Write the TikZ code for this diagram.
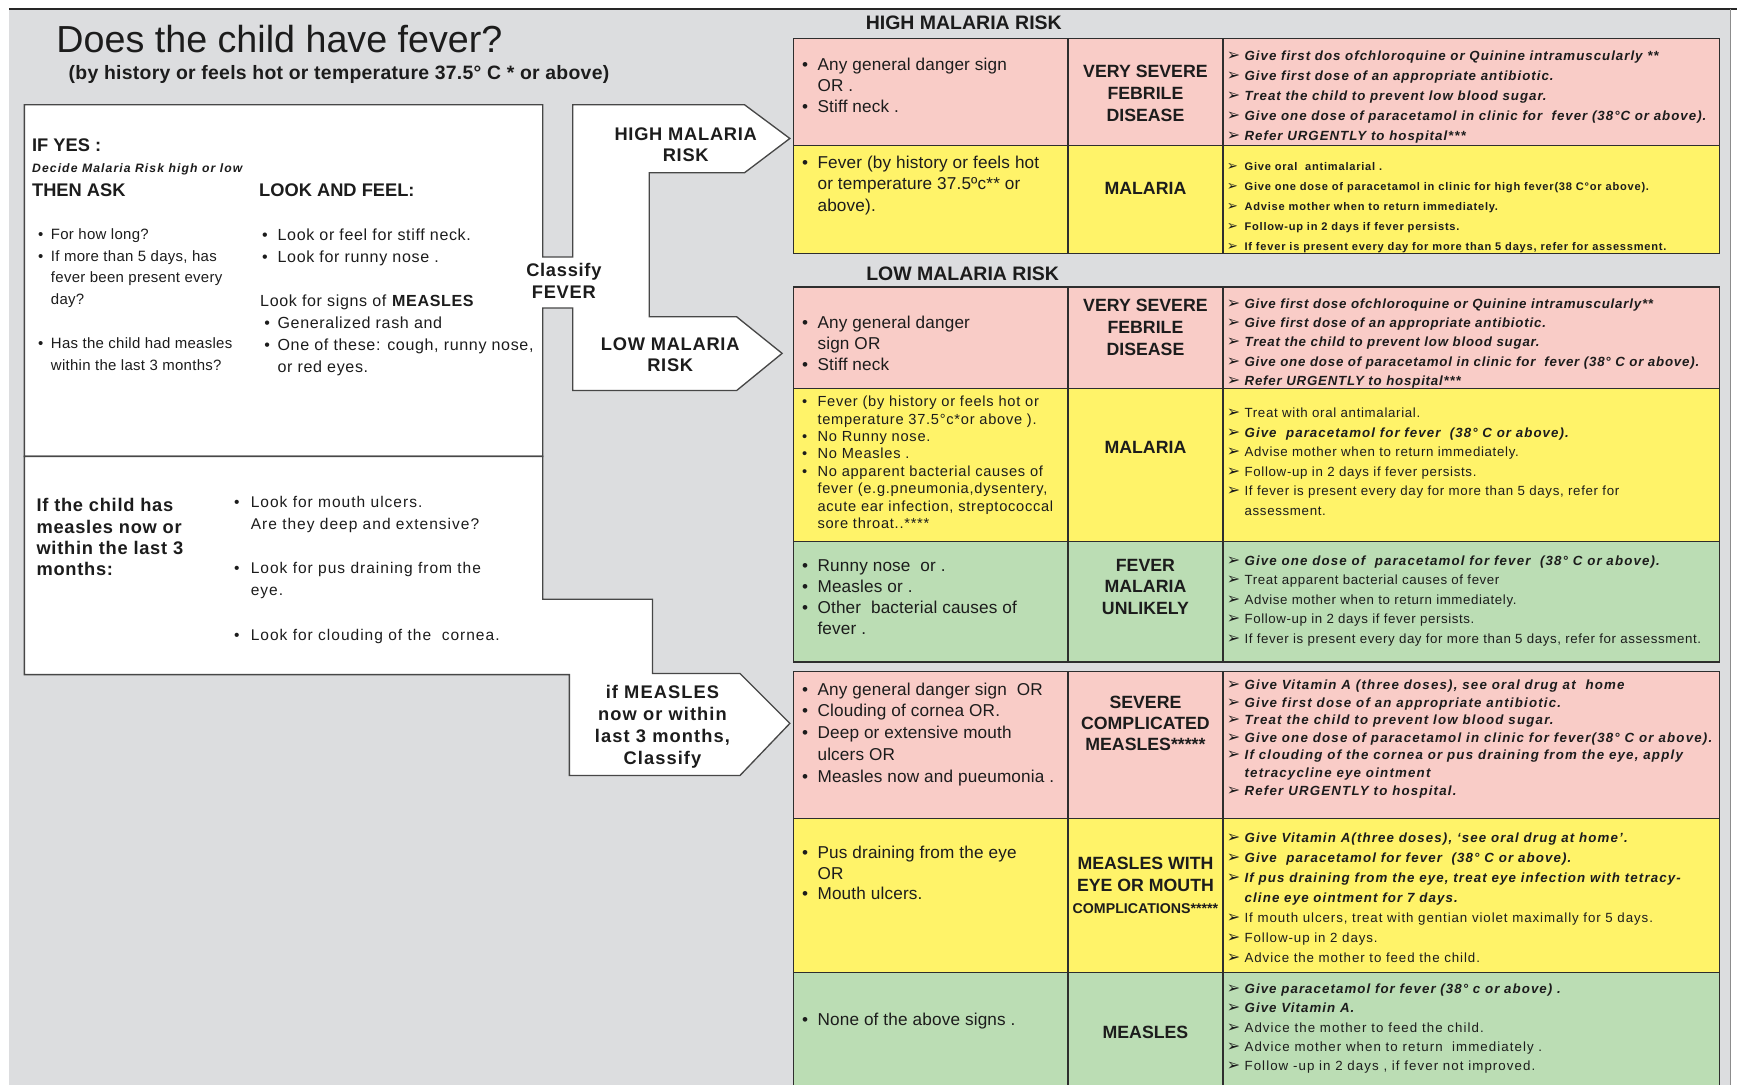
\documentclass[tikz,border=0pt]{standalone}
\usepackage{fontspec}
\setmainfont{Liberation Sans}
\newfontfamily\dvs{DejaVu Sans}
\definecolor{bg}{RGB}{220,221,223}
\definecolor{pinkc}{RGB}{249,204,199}
\definecolor{yelc}{RGB}{255,243,105}
\definecolor{grnc}{RGB}{187,221,180}
\definecolor{ink}{RGB}{28,28,28}
% list markers and helpers
\newcommand\bul[1][14pt]{\makebox[#1][l]{•}}
\newcommand\mk{\makebox[16pt][l]{\scalebox{1.2}{\dvs\upshape ➢}}}
\newcommand\indt[1][14pt]{\hspace*{#1}}
\newcommand\fz[2]{\fontsize{#1}{#2}\selectfont}
\newcommand\bi{\bfseries\itshape}
\newcommand\trk[1]{\addfontfeature{LetterSpace=#1}}

\begin{document}
\begin{tikzpicture}[x=1pt,y=-1pt,
  every node/.style={inner sep=0pt, outer sep=0pt, text=ink},
  cell/.style={anchor=north west, align=left},
  ctrtxt/.style={anchor=north, align=center},
  one/.style={anchor=base west},
  onec/.style={anchor=base},
  wshape/.style={fill=white, draw=black!72, line width=1.2pt, line join=miter},
  rule/.style={draw=black!82, line width=1.1pt},
  colA/.style={font=\fz{15.5}{19.5}\trk{1}},
  colB/.style={font=\fz{16}{19.8}\bfseries},
  lbl/.style={ctrtxt, font=\fz{16.5}{19.5}\bfseries\trk{4}},
]
\useasboundingbox (0,0) rectangle (1568,979);
\clip (0,0) rectangle (1568,979);

% page background
\fill[bg] (8,8) rectangle (1562,990);
\draw[black!85, line width=1.4pt] (8,8) -- (1568,8);
\draw[black!45, line width=1pt] (1562,8) -- (1562,990);

% heading
\node[one, font=\fz{34}{36}] (title) at (51,47.5) {Does the child have fever?};
\node[one, font=\fz{17.5}{20}\bfseries\trk{1.5}] (subtitle) at (62,72) {(by history or feels hot or temperature 37.5° C * or above)};

% assessment panel with the two branching arrows
\draw[wshape] (22,94.5) -- (490,94.5) -- (490,232) -- (517,232) -- (517,94.5) -- (672,94.5) -- (713,125) -- (672,156) -- (586,156) -- (586,286) -- (665,286) -- (706,319) -- (665,352.5) -- (517,352.5) -- (517,278) -- (490,278) -- (490,412) -- (22,412) -- cycle;
% measles panel with its arrow
\draw[wshape] (22,412) -- (490,412) -- (490,541) -- (589,541) -- (589,608) -- (668,608) -- (713,653) -- (668,700) -- (514,700) -- (514,609) -- (22,609) -- cycle;

% upper panel text
\node[one, font=\fz{16.5}{19.5}\bfseries] (ifyes) at (29,137) {IF YES :};
\node[one, font=\fz{11}{13}\bi\trk{9}] (decide) at (29,156) {Decide Malaria Risk high or low};
\node[one, font=\fz{16.5}{19.5}\bfseries] (thenask) at (29,177.5) {THEN ASK};
\node[one, font=\fz{16.5}{19.5}\bfseries] (lookfeel) at (234,177.5) {LOOK AND FEEL:};
\node[cell, font=\fz{13.5}{19.7}\trk{2}] (asklist) at (34.5,202.2) {\strut\bul[11.5pt]For how long?\\
  \bul[11.5pt]If more than 5 days, has\\
  \indt[11.5pt]fever been present every\\
  \indt[11.5pt]day?\\
  \strut\\
  \bul[11.5pt]Has the child had measles\\
  \indt[11.5pt]within the last 3 months?};
\node[cell, font=\fz{14.5}{20}\trk{4}] (looklist) at (236.6,202.7) {\strut\bul Look or feel for stiff neck.\\
  \bul Look for runny nose .\\
  \strut\\
  \hspace*{-1.7pt}Look for signs of \textbf{MEASLES}\\
  \hspace*{2pt}\bul[12pt]Generalized rash and\\
  \hspace*{2pt}\bul[12pt]One of these: cough, runny nose,\\
  \indt or red eyes.};

% lower panel text
\node[cell, font=\fz{16.5}{19.2}\bfseries\trk{4}] (measq) at (33,448.5) {\strut If the child has\\ measles now or\\ within the last 3\\ months:};
\node[cell, font=\fz{14}{20}\trk{6.5}] (measlist) at (211.4,444) {\strut\bul[15pt]Look for mouth ulcers.\\
  \indt[15pt]Are they deep and extensive?\\
  \strut\\
  \bul[15pt]Look for pus draining from the\\
  \indt[15pt]eye.\\
  \strut\\
  \bul[15pt]Look for clouding of the\ \ cornea.};

% arrow labels
\node[lbl] (lblhigh) at (619,112.85) {\strut HIGH MALARIA\\ RISK};
\node[lbl] (lblclass) at (509,236.35) {\strut Classify\\ FEVER};
\node[lbl] (lbllow) at (605,302.35) {\strut LOW MALARIA\\ RISK};
\node[lbl, font=\fz{16.5}{19.8}\bfseries\trk{6}] (lblmeas) at (598,616.6) {\strut if MEASLES\\ now or within\\ last 3 months,\\ Classify};

% ---------- high malaria risk table ----------
\node[onec, font=\fz{17.6}{20}\bfseries] (hdrhigh) at (870,27) {HIGH MALARIA RISK};
\fill[pinkc] (716,34.5) rectangle (1552,131.5);
\fill[yelc] (716,131.5) rectangle (1552,228.5);
\draw[rule] (716,34.5) rectangle (1552,228.5) (716,131.5) -- (1552,131.5)
  (964,34.5) -- (964,228.5) (1104,34.5) -- (1104,228.5);

\node[cell, font=\fz{15.5}{19.3}\trk{1}] (h1s) at (724,49.7) {\strut\bul Any general danger sign\\ \indt OR .\\ \bul Stiff neck .};
\node[ctrtxt, colB] (h1c) at (1034,55.9) {\strut VERY SEVERE\\ FEBRILE\\ DISEASE};
\node[cell, font=\fz{12}{18.1}\bi\trk{7.5}] (h1t) at (1107.5,41.8) {\strut\mk Give first dos ofchloroquine or Quinine intramuscularly **\\
  \mk Give first dose of an appropriate antibiotic.\\
  \mk Treat the child to prevent low blood sugar.\\
  \mk Give one dose of paracetamol in clinic for\ \ fever (38°C or above).\\
  \mk Refer URGENTLY to hospital***};

\node[cell, colA] (h2s) at (724,138.35) {\strut\bul Fever (by history or feels hot\\ \indt or temperature 37.5ºc** or\\ \indt above).};
\node[onec, colB] (h2c) at (1034,176) {MALARIA};
\node[cell, font=\fz{10}{18}\bfseries\trk{7}] (h2t) at (1107.5,141.2) {\strut\mk Give oral\ \ antimalarial .\\
  \mk Give one dose of paracetamol in clinic for high fever(38 C°or above).\\
  \mk Advise mother when to return immediately.\\
  \mk Follow-up in 2 days if fever persists.\\
  \mk If fever is present every day for more than 5 days, refer for assessment.};

% ---------- low malaria risk table ----------
\node[onec, font=\fz{17.6}{20}\bfseries] (hdrlow) at (869,253) {LOW MALARIA RISK};
\fill[pinkc] (716,259) rectangle (1552,351);
\fill[yelc] (716,351) rectangle (1552,489);
\fill[grnc] (716,489) rectangle (1552,597.5);
\draw[rule] (716,259) rectangle (1552,597.5) (716,351) -- (1552,351) (716,489) -- (1552,489)
  (964,259) -- (964,597.5) (1104,259) -- (1104,597.5);

\node[cell, font=\fz{15.5}{19.1}\trk{1}] (l1s) at (724,283) {\strut\bul Any general danger\\ \indt sign OR\\ \bul Stiff neck};
\node[ctrtxt, font=\fz{16}{20}\bfseries] (l1c) at (1034,267.3) {\strut VERY SEVERE\\ FEBRILE\\ DISEASE};
\node[cell, font=\fz{12}{17.4}\bi\trk{6}] (l1t) at (1107.5,266.2) {\strut\mk Give first dose ofchloroquine or Quinine intramuscularly**\\
  \mk Give first dose of an appropriate antibiotic.\\
  \mk Treat the child to prevent low blood sugar.\\
  \mk Give one dose of paracetamol in clinic for\ \ fever (38° C or above).\\
  \mk Refer URGENTLY to hospital***};

\node[cell, font=\fz{13.2}{15.7}\trk{5}] (l2s) at (724,356.1) {\strut\bul Fever (by history or feels hot or\\
  \indt temperature 37.5°c*or above ).\\
  \bul No Runny nose.\\
  \bul No Measles .\\
  \bul No apparent bacterial causes of\\
  \indt fever (e.g.pneumonia,dysentery,\\
  \indt acute ear infection, streptococcal\\
  \indt sore throat..****};
\node[onec, colB] (l2c) at (1034,409.2) {MALARIA};
\node[cell, font=\fz{12}{17.6}\trk{5}] (l2t) at (1107.5,364.8) {\strut\mk Treat with oral antimalarial.\\
  {\bi\trk{8}\mk Give\ \ paracetamol for fever\ \ (38° C or above).}\\
  \mk Advise mother when to return immediately.\\
  \mk Follow-up in 2 days if fever persists.\\
  \mk If fever is present every day for more than 5 days, refer for\\
  \indt[16pt]assessment.};

\node[cell, font=\fz{15.5}{19}\trk{1}] (l3s) at (724,502.7) {\strut\bul Runny nose\ \ or .\\ \bul Measles or .\\ \bul Other\ \ bacterial causes of\\ \indt fever .};
\node[ctrtxt, font=\fz{16}{19.2}\bfseries] (l3c) at (1034,502.6) {\strut FEVER\\ MALARIA\\ UNLIKELY};
\node[cell, font=\fz{12}{17.6}\trk{4.5}] (l3t) at (1107.5,498.1) {\strut{\bi\trk{8.5}\mk Give one dose of\ \ paracetamol for fever\ \ (38° C or above).}\\
  \mk Treat apparent bacterial causes of fever\\
  \mk Advise mother when to return immediately.\\
  \mk Follow-up in 2 days if fever persists.\\
  \mk If fever is present every day for more than 5 days, refer for assessment.};

% ---------- measles table ----------
\fill[pinkc] (716,606) rectangle (1552,739);
\fill[yelc] (716,739) rectangle (1552,878);
\fill[grnc] (716,878) rectangle (1552,990);
\draw[rule] (716,606) rectangle (1552,990) (716,739) -- (1552,739) (716,878) -- (1552,878)
  (964,606) -- (964,990) (1104,606) -- (1104,990);

\node[cell, font=\fz{15.5}{19.7}\trk{1}] (m1s) at (724,613.6) {\strut\bul Any general danger sign\ \ OR\\
  \bul Clouding of cornea OR.\\
  \bul Deep or extensive mouth\\
  \indt ulcers OR\\
  \bul Measles now and pueumonia .};
\node[ctrtxt, font=\fz{16}{19}\bfseries] (m1c) at (1034,626.1) {\strut SEVERE\\ COMPLICATED\\ MEASLES*****};
\node[cell, font=\fz{12}{15.9}\bi\trk{9}] (m1t) at (1107.5,611.2) {\strut\mk Give Vitamin A (three doses), see oral drug at\ \ home\\
  \mk Give first dose of an appropriate antibiotic.\\
  \mk Treat the child to prevent low blood sugar.\\
  \mk Give one dose of paracetamol in clinic for fever(38° C or above).\\
  \mk If clouding of the cornea or pus draining from the eye, apply\\
  \indt[16pt]tetracycline eye ointment\\
  \mk Refer URGENTLY to hospital.};

\node[cell, font=\fz{15.5}{18.8}\trk{1}] (m2s) at (724,761.6) {\strut\bul Pus draining from the eye\\ \indt OR\\ \bul Mouth ulcers.};
\node[ctrtxt, font=\fz{16}{19.6}\bfseries] (m2c) at (1034,771.6) {\strut MEASLES WITH\\ EYE OR MOUTH\\ {\fz{12.8}{19.6}COMPLICATIONS*****}};
\node[cell, font=\fz{12}{18}\trk{7}] (m2t) at (1107.5,748.2) {\strut{\bi\trk{8.5}\mk Give Vitamin A(three doses), `see oral drug at home'.}\\
  {\bi\trk{8.5}\mk Give\ \ paracetamol for fever\ \ (38° C or above).}\\
  {\bi\trk{8.5}\mk If pus draining from the eye, treat eye infection with tetracy-}\\
  {\bi\trk{8.5}\indt[16pt]cline eye ointment for 7 days.}\\
  \mk If mouth ulcers, treat with gentian violet maximally for 5 days.\\
  \mk Follow-up in 2 days.\\
  {\bfseries\mk}Advice the mother to feed the child.};

\node[one, colA] (m3s) at (724,925.3) {\bul None of the above signs .};
\node[onec, colB] (m3c) at (1034,937.3) {MEASLES};
\node[cell, font=\fz{12}{17.3}\trk{8}] (m3t) at (1107.5,884.9) {\strut{\bi\mk Give paracetamol for fever (38° c or above) .}\\
  {\bi\mk Give Vitamin A.}\\
  \mk Advice the mother to feed the child.\\
  \mk Advice mother when to return\ \ immediately .\\
  \mk Follow -up in 2 days , if fever not improved.};
\end{tikzpicture}
\end{document}
